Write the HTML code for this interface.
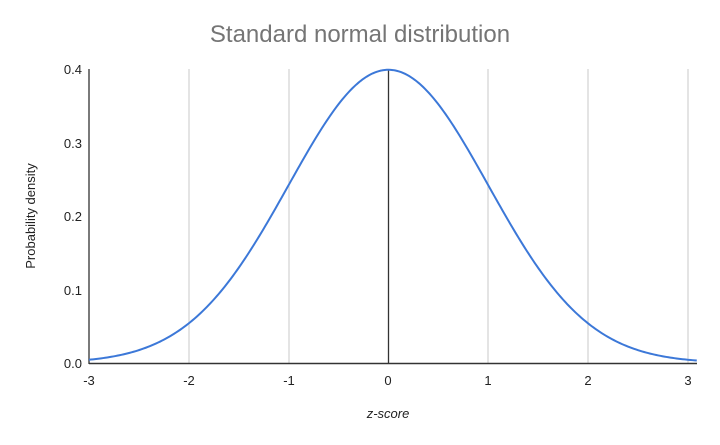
<!DOCTYPE html>
<html><head><meta charset="utf-8"><style>
html,body{margin:0;padding:0;background:#fff;}
svg{display:block;font-family:"Liberation Sans",Arial,sans-serif;}
</style></head><body>
<svg id="s" width="720" height="445" viewBox="0 0 720 445" xmlns="http://www.w3.org/2000/svg">
<rect width="720" height="445" fill="#fff"/>
<text x="360" y="42" text-anchor="middle" font-size="24" fill="#757575">Standard normal distribution</text>
<g stroke="#d6d6d6" stroke-width="1.3">
<line x1="189" y1="69" x2="189" y2="363"/>
<line x1="289" y1="69" x2="289" y2="363"/>
<line x1="488" y1="69" x2="488" y2="363"/>
<line x1="588" y1="69" x2="588" y2="363"/>
<line x1="688" y1="69" x2="688" y2="363"/>
</g>
<line x1="89" y1="69" x2="89" y2="364" stroke="#333" stroke-width="1.3"/>
<line x1="388.5" y1="69" x2="388.5" y2="363" stroke="#333" stroke-width="1.3"/>
<line x1="89" y1="363.5" x2="697" y2="363.5" stroke="#333" stroke-width="1.5"/>
<path id="c" fill="none" stroke="#3c78d8" stroke-width="2"/>
<g font-size="13" fill="#222" text-anchor="end">
<text x="82" y="74">0.4</text>
<text x="82" y="148">0.3</text>
<text x="82" y="221">0.2</text>
<text x="82" y="295">0.1</text>
<text x="82" y="368">0.0</text>
</g>
<g font-size="13" fill="#222" text-anchor="middle">
<text x="89" y="385">-3</text>
<text x="189" y="385">-2</text>
<text x="289" y="385">-1</text>
<text x="388" y="385">0</text>
<text x="488" y="385">1</text>
<text x="588" y="385">2</text>
<text x="688" y="385">3</text>
</g>
<text x="388" y="418" text-anchor="middle" font-size="13" font-style="italic" fill="#222">z-score</text>
<text transform="translate(35,216) rotate(-90)" text-anchor="middle" font-size="13" fill="#222">Probability density</text>
</svg>
<script>
var d="";
for(var i=0;i<=300;i++){var z=-3+i*(6.09/300);var v=Math.exp(-z*z/2)/Math.sqrt(2*Math.PI);
var x=89+(z+3)*99.8,y=363-v*735;d+=(i?"L":"M")+x.toFixed(2)+","+y.toFixed(2);}
document.getElementById("c").setAttribute("d",d);
</script>
</body></html>
